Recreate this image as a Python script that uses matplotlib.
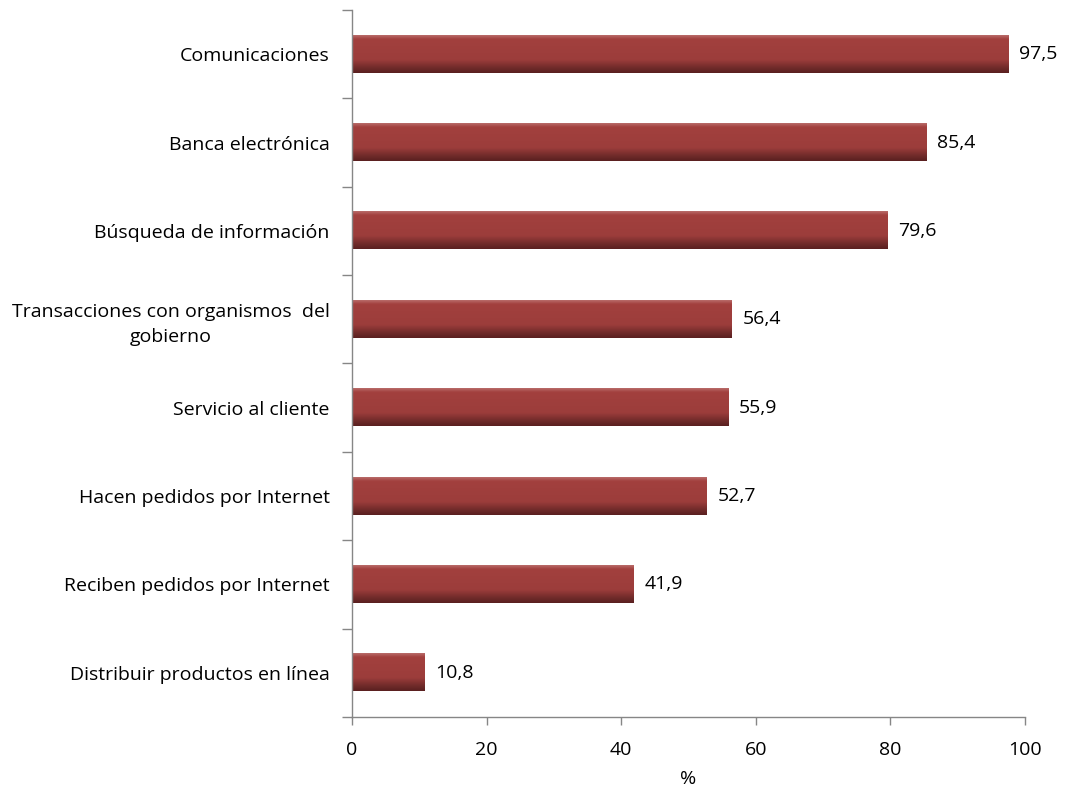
import numpy as np
import matplotlib.pyplot as plt
from matplotlib.colors import LinearSegmentedColormap

plt.rcParams['font.family'] = ['Open Sans', 'DejaVu Sans']

categories = [
    "Comunicaciones",
    "Banca electrónica",
    "Búsqueda de información",
    "Transacciones con organismos  del\ngobierno",
    "Servicio al cliente",
    "Hacen pedidos por Internet",
    "Reciben pedidos por Internet",
    "Distribuir productos en línea",
]
values = [97.5, 85.4, 79.6, 56.4, 55.9, 52.7, 41.9, 10.8]
value_labels = ["97,5", "85,4", "79,6", "56,4", "55,9", "52,7", "41,9", "10,8"]
xticks = [0, 20, 40, 60, 80, 100]

fig = plt.figure(figsize=(10.68, 7.89), dpi=100)
ax = fig.add_axes([0.3296, 0.0913, 0.6301, 0.896])

n = len(categories)
ypos = np.arange(n)[::-1]  # first category on top
height = 0.42

# vertical gradient for the bars: main red, darker towards the bottom
cmap = LinearSegmentedColormap.from_list(
    "bar", [(0.0, "#5a2020"), (0.12, "#6e2a29"), (0.35, "#9c3d3b"), (0.9, "#a2403e"), (1.0, "#b86a68")]
)
grad = np.linspace(0, 1, 64).reshape(-1, 1)

for y, v, lab in zip(ypos, values, value_labels):
    ax.imshow(grad, cmap=cmap, aspect="auto", origin="lower",
              extent=[0, v, y - height / 2, y + height / 2], zorder=2)
    ax.text(v + 1.6, y, lab, va="center", ha="left", fontsize=14, color="black")

ax.set_xlim(0, 100)
ax.set_ylim(-0.5, n - 0.5)
ax.set_yticks(ypos)
ax.set_yticklabels(categories, fontsize=14, ha="right",
                   multialignment="center", linespacing=1.45)
ax.tick_params(axis="y", length=0, pad=16)
ax.set_yticks(np.arange(n + 1) - 0.5, minor=True)
ax.tick_params(axis="y", which="minor", length=7, color="#868686", width=1)
ax.set_xticks(xticks)
ax.set_xticklabels([str(t) for t in xticks], fontsize=14)
ax.tick_params(axis="x", length=6, color="#868686", width=1, pad=11)
ax.set_xlabel("%", fontsize=14, labelpad=8)

for s in ["top", "right"]:
    ax.spines[s].set_visible(False)
for s in ["left", "bottom"]:
    ax.spines[s].set_color("#868686")
    ax.spines[s].set_linewidth(1)

fig.savefig("out.png", dpi=100)
